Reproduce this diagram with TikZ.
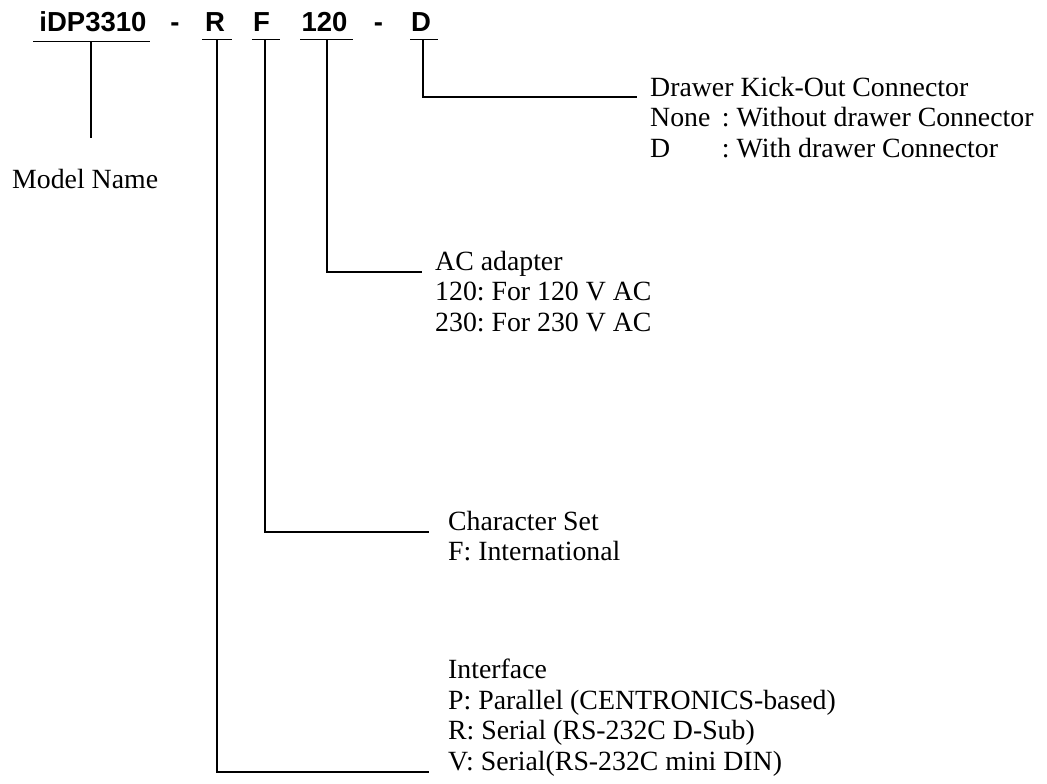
\documentclass[tikz,border=0pt]{standalone}
\usepackage{fontspec}
\setmainfont{Liberation Serif}
\newfontfamily\hdfont{Liberation Sans}
\usetikzlibrary{calc}
\begin{document}
\frenchspacing
\begin{tikzpicture}[x=1pt,y=-1pt,
  hd/.style={font=\hdfont\bfseries\fontsize{27.5}{30}\selectfont, inner sep=0pt, anchor=base},
  lbl/.style={font=\frenchspacing\fontsize{27.8}{31}\selectfont, inner sep=0pt, anchor=base west},
  ln/.style={draw=black, line width=1.6pt},
  conn/.style={draw=black, line width=1.6pt}
]
\useasboundingbox (0,0) rectangle (1047,784);

% header code
\node[hd] (hM)   at (93,32)    {iDP3310};
\node[hd] (hd1)  at (175,32)   {-};
\node[hd] (hR)   at (215,32)   {R};
\node[hd] (hF)   at (261.5,32) {F};
\node[hd] (h120) at (324.5,32) {120};
\node[hd] (hd2)  at (378.5,32) {-};
\node[hd] (hD)   at (421,32)   {D};

% underlines
\draw[ln] (33,41.5) -- (150,41.5);
\draw[ln] (202,39.5) -- (232,39.5);
\draw[ln] (252,39.5) -- (280,39.5);
\draw[ln] (300,39.5) -- (353,39.5);
\draw[ln] (410,39.5) -- (438,39.5);

\coordinate (tM)   at (91,41.5);
\coordinate (tR)   at (217,39.5);
\coordinate (tF)   at (265,39.5);
\coordinate (t120) at (327,39.5);
\coordinate (tD)   at (423,39.5);

% Model name
\coordinate (eM) at (91,138);
\node[lbl] (mname) at (12,188) {Model Name};

% Drawer block
\node[lbl] (dr1) at (650,96)    {Drawer Kick-Out Connector};
\node[lbl] (dr2) at (650,126.5) {None \,: Without drawer Connector};
\node[lbl] (dr3) at (650,157)   {\rlap{D}\phantom{None \,}: With drawer Connector};

% AC adapter block
\node[lbl] (ac1) at (435,270)   {AC adapter};
\node[lbl] (ac2) at (435,300.5) {120: For 120 V AC};
\node[lbl] (ac3) at (435,331)   {230: For 230 V AC};

% Character set block
\node[lbl] (cs1) at (448,530)   {Character Set};
\node[lbl] (cs2) at (448,560.5) {F: International};

% Interface block
\node[lbl] (if1) at (448,678.5) {Interface};
\node[lbl] (if2) at (448,709)   {P: Parallel (CENTRONICS-based)};
\node[lbl] (if3) at (448,739.5) {R: Serial (RS-232C D-Sub)};
\node[lbl] (if4) at (448,770)   {V: Serial(RS-232C mini DIN)};

% connectors
\draw[conn] (tM) -- (eM);
\draw[conn] (tD)   |- ($(dr1.base west)+(-13,1)$);
\draw[conn] (t120) |- ($(ac1.base west)+(-13,2)$);
\draw[conn] (tF)   |- ($(cs1.base west)+(-19,2)$);
\draw[conn] (tR)   |- ($(if4.base west)+(-19,2)$);
\end{tikzpicture}
\end{document}
